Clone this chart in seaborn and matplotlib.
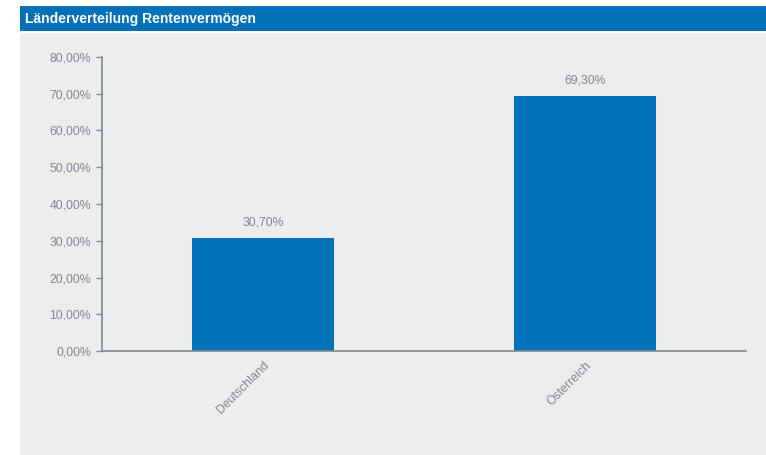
import matplotlib
matplotlib.use("Agg")
import matplotlib.pyplot as plt
from matplotlib import font_manager
from matplotlib.patches import Rectangle
import seaborn as sns
import pandas as pd

categories = ["Deutschland", "Österreich"]
values = [30.70, 69.30]
yticks = [0, 10, 20, 30, 40, 50, 60, 70, 80]
title = "Länderverteilung Rentenvermögen"

sns.set_theme(style="white")
names = {f.name for f in font_manager.fontManager.ttflist}
fam = "Liberation Sans Narrow" if "Liberation Sans Narrow" in names else "Liberation Sans"
plt.rcParams["font.family"] = [fam, "DejaVu Sans"]

W, H = 766, 455
fig = plt.figure(figsize=(W / 100, H / 100), dpi=100, facecolor="white")

# grey panel and title bar
fig.patches.append(Rectangle((20 / W, 0), 1 - 20 / W, 1 - 33 / H, transform=fig.transFigure,
                             facecolor="#ECEEEE", edgecolor="none", zorder=-2))
fig.patches.append(Rectangle((20 / W, 1 - 31 / H), 1 - 20 / W, 25 / H, transform=fig.transFigure,
                             facecolor="#0070B8", edgecolor="none", zorder=-2))
fig.text(25 / W, 1 - 19 / H, title, color="white", fontsize=10, fontweight="bold",
         va="center", ha="left")

ax = fig.add_axes([102 / W, 1 - 351 / H, (746 - 102) / W, (351 - 57) / H])
ax.set_zorder(2)
ax.set_facecolor("none")
df = pd.DataFrame({"Land": categories, "Anteil": values})
sns.barplot(data=df, x="Land", y="Anteil", color="#0070B8", saturation=1, width=0.444,
            linewidth=0, edgecolor="none", ax=ax)
ax.set_xlim(-0.5, 1.5)
ax.set_ylim(0, 80)
ax.set_yticks(yticks)
ax.set_yticklabels([f"{v:.2f}".replace(".", ",") + "%" for v in yticks])
ax.set_xlabel("")
ax.set_ylabel("")
for s in ["top", "right"]:
    ax.spines[s].set_visible(False)
for s in ["left", "bottom"]:
    ax.spines[s].set_color("#7F8791")
    ax.spines[s].set_linewidth(1.2)
ax.tick_params(axis="y", length=4, width=1, color="#7F8791", labelcolor="#7F8590", labelsize=8.8, pad=4, left=True)
ax.tick_params(axis="x", length=0, labelcolor="#7F8590", labelsize=8.8, pad=6)
for lab in ax.get_xticklabels():
    lab.set_rotation(45)
    lab.set_ha("right")
    lab.set_rotation_mode("anchor")
for i, v in enumerate(values):
    ax.text(i, v + 2.6, f"{v:.2f}".replace(".", ",") + "%", ha="center", va="bottom",
            color="#7F8590", fontsize=8.8)

fig.savefig("out.png", dpi=100, facecolor="white")
